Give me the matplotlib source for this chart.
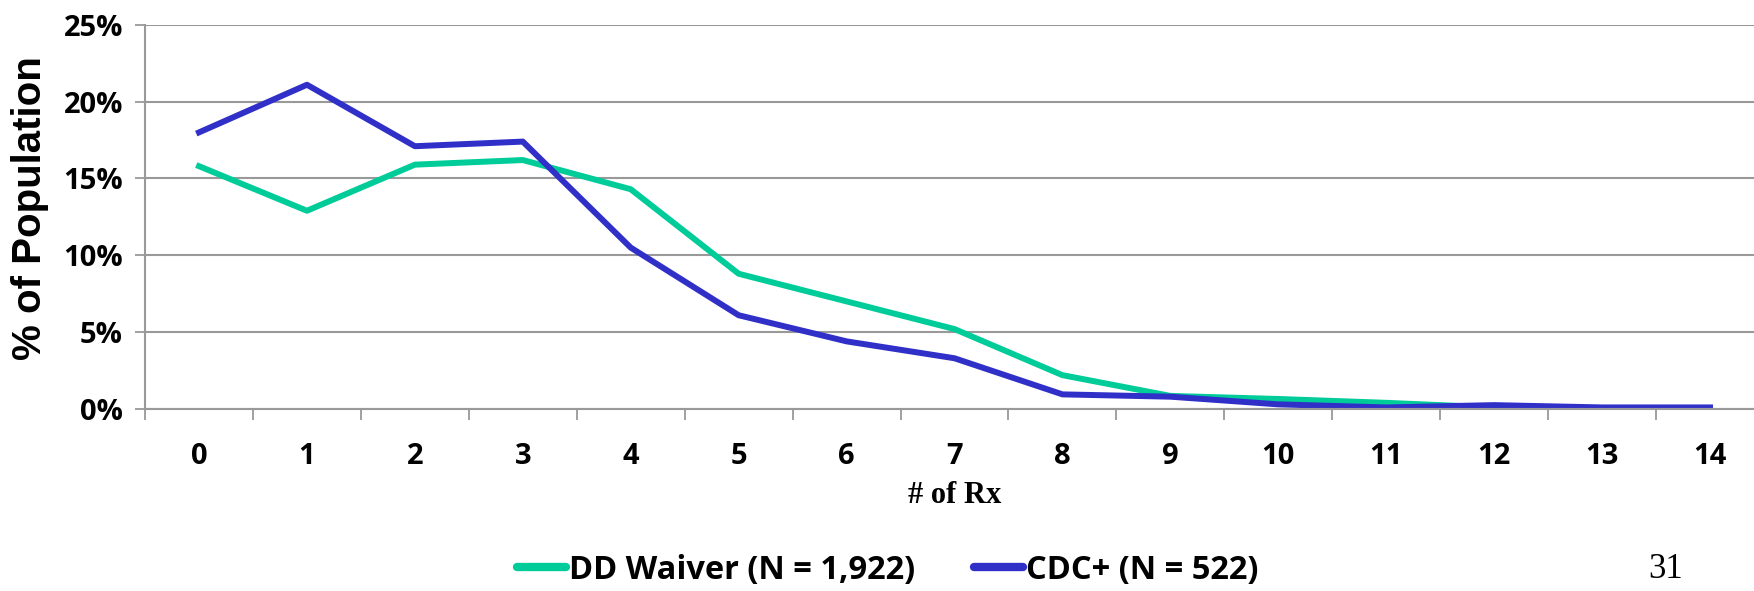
import numpy as np
import matplotlib.pyplot as plt
from matplotlib.ticker import PercentFormatter

# Valores (% de la poblacion por numero de recetas)
rx_counts = np.arange(0, 15)
dd_waiver = [15.8, 12.9, 15.9, 16.2, 14.3, 8.8, 7.0, 5.2, 2.2, 0.85, 0.65, 0.4, 0.1, 0.05, 0.05]
cdc_plus = [18.0, 21.1, 17.1, 17.4, 10.5, 6.1, 4.4, 3.3, 0.95, 0.8, 0.3, 0.1, 0.25, 0.1, 0.1]
label_dd = "DD Waiver (N = 1,922)"
label_cdc = "CDC+ (N = 522)"
y_ticks = [0, 5, 10, 15, 20, 25]

GREEN = "#00CC99"
BLUE = "#3030C8"
GRID = "#999999"

plt.rcParams["font.family"] = ["Open Sans", "DejaVu Sans"]

fig = plt.figure(figsize=(17.54, 5.91), dpi=100)
ax = fig.add_axes([0.0827, 0.308, 1.0057 - 0.0827, 0.958 - 0.308])

ax.plot(rx_counts, dd_waiver, color=GREEN, lw=4.3, label=label_dd)
ax.plot(rx_counts, cdc_plus, color=BLUE, lw=4.3, label=label_cdc)

ax.set_xlim(-0.5, 14.5)
ax.set_ylim(0, 25)
ax.set_yticks(y_ticks)
ax.yaxis.set_major_formatter(PercentFormatter(decimals=0))
ax.set_xticks(rx_counts)
ax.set_xticks(np.arange(-0.5, 15, 1), minor=True)
ax.tick_params(axis="x", which="major", length=0, pad=24, labelsize=21)
ax.tick_params(axis="x", which="minor", length=8, width=1.3, color=GRID)
ax.tick_params(axis="y", length=7, width=1.3, color=GRID, pad=9, labelsize=21)
for lab in ax.get_xticklabels() + ax.get_yticklabels():
    lab.set_fontweight("bold")

ax.grid(True, axis="y", color=GRID, lw=1.5)
ax.set_axisbelow(True)
for side in ["top", "right"]:
    ax.spines[side].set_visible(False)
for side in ["left", "bottom"]:
    ax.spines[side].set_color(GRID)
    ax.spines[side].set_linewidth(1.5)

ax.set_ylabel("% of Population", fontsize=29, fontweight="bold", family="Liberation Sans", va="center")
ax.yaxis.set_label_coords(-0.071, 0.522)
ax.set_xlabel("# of Rx", fontsize=22, fontweight="bold", family="Liberation Serif", va="center")
ax.xaxis.set_label_coords(0.5, -0.224)

leg = ax.legend(loc="center", bbox_to_anchor=(888 / 1754, 1 - 570 / 591), bbox_transform=fig.transFigure,
                ncol=2, frameon=False, handlelength=1.5, columnspacing=1.8, handletextpad=0.1,
                prop={"size": 23.5, "weight": "bold"})
for h in leg.get_lines():
    h.set_linewidth(6)
    h.set_solid_capstyle("round")

fig.text(1666 / 1754, 1 - 586 / 591, "31", fontsize=25, family="Liberation Serif", va="bottom", ha="center")

fig.savefig("out.png", dpi=100)
